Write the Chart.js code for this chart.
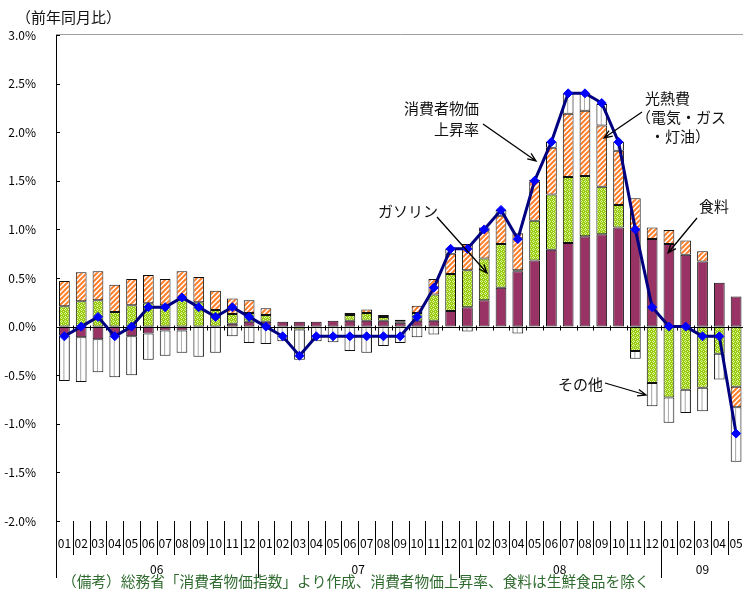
<!DOCTYPE html>
<html>
<head>
<meta charset="utf-8">
<script src="https://cdn.jsdelivr.net/npm/chart.js@4"></script>
<style>
  html, body { margin: 0; padding: 0; background: #fff; overflow: hidden; }
  #wrap { width: 750px; height: 591px; }
</style>
</head>
<body>
<div id="wrap"><canvas id="cpi" width="750" height="591"></canvas></div>
<script>
// 前年同月比の寄与度（%ポイント）, 2006/01 - 2009/05
const years = ['06', '07', '08', '09']
const months = [
  '01', '02', '03', '04', '05', '06', '07', '08', '09', '10', '11', '12',
  '01', '02', '03', '04', '05', '06', '07', '08', '09', '10', '11', '12',
  '01', '02', '03', '04', '05', '06', '07', '08', '09', '10', '11', '12',
  '01', '02', '03', '04', '05'
]
const food = [
  -0.09, -0.11, -0.13, -0.09, -0.10, -0.07, -0.04, -0.04, 0.00, 0.00, 0.03, 0.05,
  0.05, 0.05, 0.05, 0.05, 0.06, 0.06, 0.06, 0.06, 0.04, 0.06, 0.06, 0.16,
  0.20, 0.27, 0.40, 0.57, 0.68, 0.79, 0.86, 0.93, 0.95, 1.02, 1.00, 0.90,
  0.85, 0.74, 0.67, 0.45, 0.31
]
const gasoline = [
  0.21, 0.26, 0.27, 0.15, 0.22, 0.24, 0.22, 0.27, 0.25, 0.17, 0.10, 0.09,
  0.07, 0.00, -0.03, 0.00, 0.00, 0.06, 0.08, 0.04, 0.01, 0.08, 0.27, 0.38,
  0.38, 0.43, 0.45, 0.01, 0.41, 0.57, 0.68, 0.62, 0.49, 0.23, -0.25, -0.58,
  -0.73, -0.65, -0.63, -0.28, -0.62
]
const utilities = [
  0.26, 0.30, 0.30, 0.28, 0.27, 0.29, 0.27, 0.30, 0.26, 0.20, 0.16, 0.13,
  0.07, 0.00, 0.00, 0.00, 0.00, 0.02, 0.035, 0.02, 0.02, 0.075, 0.16, 0.21,
  0.27, 0.28, 0.29, 0.38, 0.40, 0.48, 0.65, 0.67, 0.63, 0.56, 0.32, 0.12,
  0.145, 0.145, 0.105, 0.00, -0.21
]
const others = [
  -0.47, -0.46, -0.34, -0.43, -0.40, -0.27, -0.26, -0.23, -0.31, -0.27, -0.10, -0.17,
  -0.18, -0.15, -0.31, -0.15, -0.16, -0.25, -0.27, -0.20, -0.17, -0.11, -0.08, 0.05,
  -0.05, 0.04, 0.06, -0.07, 0.02, 0.06, 0.21, 0.18, 0.22, 0.09, -0.08, -0.24,
  -0.26, -0.24, -0.24, -0.265, -0.56
]
const cpi = [
  -0.1, 0.0, 0.1, -0.1, 0.0, 0.2, 0.2, 0.3, 0.2, 0.1, 0.2, 0.1,
  0.0, -0.1, -0.3, -0.1, -0.1, -0.1, -0.1, -0.1, -0.1, 0.1, 0.4, 0.8,
  0.8, 1.0, 1.2, 0.9, 1.5, 1.9, 2.4, 2.4, 2.3, 1.9, 1.0, 0.2,
  0.0, 0.0, -0.1, -0.1, -1.1
]
const yTicks = [-2.0, -1.5, -1.0, -0.5, 0.0, 0.5, 1.0, 1.5, 2.0, 2.5, 3.0]

const JP = '"Noto Sans CJK JP", "Noto Sans", sans-serif'
const BAR_PCT = 0.64

// orange diagonal hatch on white
function hatchPattern() {
  const c = document.createElement('canvas')
  c.width = 5; c.height = 5
  const g = c.getContext('2d')
  g.fillStyle = '#fff'
  g.fillRect(0, 0, 5, 5)
  g.strokeStyle = '#ff7f2a'
  g.lineWidth = 2
  g.beginPath()
  g.moveTo(-1, 6); g.lineTo(6, -1)
  g.moveTo(-3, 3); g.lineTo(3, -3)
  g.moveTo(2, 8); g.lineTo(8, 2)
  g.stroke()
  return g.createPattern(c, 'repeat')
}

// yellow-green with light dots
function dotPattern() {
  const c = document.createElement('canvas')
  c.width = 4; c.height = 4
  const g = c.getContext('2d')
  g.fillStyle = '#99cc11'
  g.fillRect(0, 0, 4, 4)
  g.fillStyle = '#dff59a'
  g.fillRect(1, 0, 1, 1)
  g.fillRect(0, 1, 1, 1)
  g.fillRect(2, 1, 1, 1)
  g.fillRect(1, 2, 1, 1)
  g.fillRect(3, 3, 1, 1)
  return g.createPattern(c, 'repeat')
}

// white bars with a little grey shading across
function otherFill(ctx) {
  const chart = ctx.chart
  const xs = chart.scales && chart.scales.x
  if (ctx.dataIndex === undefined || !xs) return '#fff'
  const cx = xs.getPixelForValue(ctx.dataIndex)
  const w = (xs.width / months.length) * BAR_PCT
  if (!isFinite(cx) || !isFinite(w) || w <= 0) return '#fff'
  const grad = chart.ctx.createLinearGradient(cx - w / 2, 0, cx + w / 2, 0)
  grad.addColorStop(0, '#c0c0c0')
  grad.addColorStop(0.18, '#ffffff')
  grad.addColorStop(0.36, '#ffffff')
  grad.addColorStop(0.45, '#a8a8a8')
  grad.addColorStop(0.55, '#ffffff')
  grad.addColorStop(0.8, '#ffffff')
  grad.addColorStop(1, '#b8b8b8')
  return grad
}

function arrow(g, x1, y1, x2, y2) {
  const a = Math.atan2(y2 - y1, x2 - x1)
  const h = 9
  g.beginPath()
  g.moveTo(x1, y1)
  g.lineTo(x2, y2)
  g.moveTo(x2 - h * Math.cos(a - 0.38), y2 - h * Math.sin(a - 0.38))
  g.lineTo(x2, y2)
  g.lineTo(x2 - h * Math.cos(a + 0.38), y2 - h * Math.sin(a + 0.38))
  g.stroke()
}

// axis lines, month/year band under the plot, notes and arrows
const framePlugin = {
  id: 'frame',
  beforeDatasetDraw(chart, args) {
    if (chart.data.datasets[args.index].type !== 'line') return
    const g = chart.ctx
    const { left, right } = chart.chartArea
    const xs = chart.scales.x
    const y0 = Math.round(chart.scales.y.getPixelForValue(0)) + 0.5
    const step = xs.width / months.length
    g.save()
    g.strokeStyle = '#000'
    g.lineWidth = 1
    g.beginPath()
    g.moveTo(left, y0); g.lineTo(right, y0)
    for (let i = 1; i < months.length; i++) {
      const x = Math.round(left + i * step) + 0.5
      g.moveTo(x, y0 - 2); g.lineTo(x, y0 + 3)
    }
    g.stroke()
    g.restore()
  },
  afterDraw(chart) {
    const g = chart.ctx
    const { left, right, top, bottom } = chart.chartArea
    const ys = chart.scales.y
    const step = chart.scales.x.width / months.length
    g.save()

    // top frame line
    g.strokeStyle = '#a0a0a0'
    g.lineWidth = 1
    g.beginPath()
    g.moveTo(left, top - 0.5); g.lineTo(right, top - 0.5)
    g.stroke()

    // inner tick marks on the value axis
    g.strokeStyle = '#000'
    g.beginPath()
    yTicks.forEach(v => {
      const y = Math.round(ys.getPixelForValue(v)) + 0.5
      g.moveTo(left, y); g.lineTo(left + 4, y)
    })
    // month separators and year separators
    for (let i = 0; i <= months.length; i++) {
      const x = Math.round(left + i * step) + 0.5
      const longLine = i % 12 === 0
      g.moveTo(x, bottom); g.lineTo(x, longLine ? bottom + 57 : bottom + 34)
    }
    g.stroke()

    g.fillStyle = '#000'
    g.font = '12px ' + JP
    g.textAlign = 'center'
    g.textBaseline = 'middle'
    months.forEach((m, i) => g.fillText(m, left + (i + 0.5) * step, bottom + 22))
    years.forEach((yr, k) => {
      const n = Math.min(12, months.length - k * 12)
      g.fillText(yr, left + (k * 12 + n / 2) * step, bottom + 48)
    })

    // heading and footnote
    g.font = '15px ' + JP
    g.textAlign = 'left'
    g.fillStyle = '#111'
    g.fillText('（前年同月比）', 16, 17)
    g.font = '14.7px ' + JP
    g.fillStyle = '#2f6b2f'
    g.fillText('（備考）総務省「消費者物価指数」より作成、消費者物価上昇率、食料は生鮮食品を除く', 62, 581)

    // series notes
    g.fillStyle = '#111'
    g.font = '15px ' + JP
    g.textAlign = 'right'
    g.fillText('消費者物価', 479, 108)
    g.fillText('上昇率', 479, 129)
    g.textAlign = 'left'
    g.fillText('光熱費', 645, 98)
    g.fillText('（電気・ガス', 636, 117)
    g.fillText('・灯油）', 650, 136)
    g.fillText('食料', 699, 206)
    g.fillText('ガソリン', 378, 211)
    g.fillText('その他', 558, 384)

    g.strokeStyle = '#000'
    g.lineWidth = 1.3
    arrow(g, 483, 124, 536, 161)
    arrow(g, 642, 112, 604, 138)
    arrow(g, 697, 218, 668, 253)
    arrow(g, 437, 217, 487, 273)
    arrow(g, 605, 383, 646, 395)
    g.restore()
  }
}

const barBase = {
  type: 'bar',
  stack: 'cpi',
  borderColor: '#111',
  borderWidth: 1,
  borderSkipped: false,
  categoryPercentage: 1,
  barPercentage: BAR_PCT,
  order: 1
}

new Chart(document.getElementById('cpi'), {
  data: {
    labels: months,
    datasets: [
      Object.assign({ label: '食料', data: food, backgroundColor: '#993366' }, barBase),
      Object.assign({ label: 'ガソリン', data: gasoline, backgroundColor: dotPattern() }, barBase),
      Object.assign({ label: '光熱費', data: utilities, backgroundColor: hatchPattern() }, barBase),
      Object.assign({ label: 'その他', data: others, backgroundColor: otherFill }, barBase),
      {
        type: 'line',
        label: '消費者物価上昇率',
        data: cpi,
        borderColor: '#000080',
        borderWidth: 3,
        pointStyle: 'rectRot',
        pointRadius: 4.5,
        pointBackgroundColor: '#0000ff',
        pointBorderColor: '#0000ff',
        pointBorderWidth: 1,
        tension: 0,
        order: 0
      }
    ]
  },
  options: {
    responsive: false,
    animation: false,
    layout: { padding: { left: 0, right: 4, top: 35, bottom: 70 } },
    plugins: { legend: { display: false }, tooltip: { enabled: false } },
    scales: {
      x: { type: 'category', display: false, stacked: true, offset: true },
      y: {
        stacked: true,
        min: -2,
        max: 3,
        afterFit(scale) { scale.width = 56 },
        afterBuildTicks(scale) { scale.ticks = yTicks.map(v => ({ value: v })) },
        grid: { display: false },
        border: { display: true, color: '#000', width: 1 },
        ticks: {
          padding: 12,
          color: '#000',
          font: { family: JP, size: 12 },
          callback: v => v.toFixed(1) + '%'
        }
      }
    }
  },
  plugins: [framePlugin]
})
</script>
</body>
</html>
